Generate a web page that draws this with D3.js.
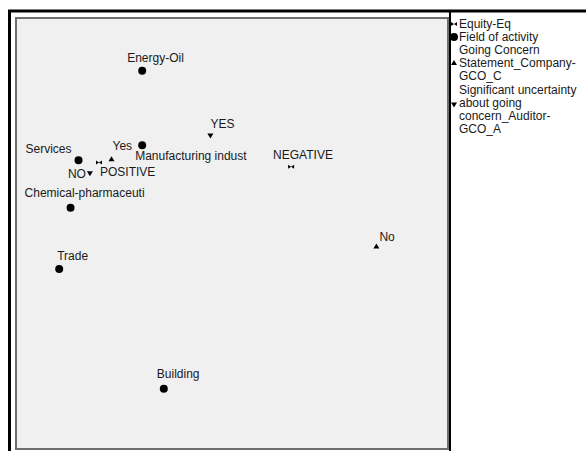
<!DOCTYPE html>
<html>
<head>
<meta charset="utf-8">
<script src="https://cdn.jsdelivr.net/npm/d3@7/dist/d3.min.js"></script>
<style>
  html, body { margin: 0; padding: 0; background: #ffffff; }
  svg { display: block; }
  text { font-family: "Liberation Sans", Arial, sans-serif; font-size: 12px; fill: #1a1a1a; }
</style>
</head>
<body>
<svg id="chart" width="586" height="451"></svg>
<script>
// ---- data ----
const groups = ["Equity-Eq", "Field of activity",
  "Going Concern Statement_Company-GCO_C",
  "Significant uncertainty about going concern_Auditor-GCO_A"];
const legendLines = [
  ["Equity-Eq"],
  ["Field of activity"],
  ["Going Concern", "Statement_Company-", "GCO_C"],
  ["Significant uncertainty", "about going", "concern_Auditor-", "GCO_A"]
];
const labels = ["POSITIVE", "NEGATIVE",
  "Energy-Oil", "Manufacturing indust", "Services", "Chemical-pharmaceuti", "Trade", "Building",
  "Yes", "No", "YES", "NO"];
const groupIndex = [0, 0, 1, 1, 1, 1, 1, 1, 2, 2, 3, 3];
const dim1 = [-0.47, 1.22, -0.09, -0.09, -0.65, -0.72, -0.82, 0.10, -0.36, 1.97, 0.51, -0.55];
const dim2 = [-0.14, -0.18, 0.71, 0.02, -0.12, -0.56, -1.13, -2.24, -0.11, -0.92, 0.11, -0.24];

// ---- layout (label placement relative to marker) ----
const labelOffset = [[1, 14], [-18, -8], [-15, -9], [-7, 15], [-53, -7], [-46, -11],
  [-2, -9], [-7, -11], [1, -9], [3, -5], [0, -7], [-22, 5]];

const svg = d3.select("#chart");
const plot = { x0: 16, x1: 448, y0: 18, y1: 449 };

const x = d3.scaleLinear().domain([-1.2, 2.6]).range([plot.x0, plot.x1]);
const y = d3.scaleLinear().domain([-2.8, 1.2]).range([plot.y1, plot.y0]);

// outer black frame
svg.append("line").attr("x1", 8).attr("x2", 586).attr("y1", 11).attr("y2", 11)
  .attr("stroke", "#000").attr("stroke-width", 3);
svg.append("line").attr("x1", 9.5).attr("x2", 9.5).attr("y1", 10).attr("y2", 451)
  .attr("stroke", "#000").attr("stroke-width", 3);
svg.append("line").attr("x1", 450).attr("x2", 450).attr("y1", 10).attr("y2", 451)
  .attr("stroke", "#000").attr("stroke-width", 2);

// plot box
svg.append("rect")
  .attr("x", plot.x0).attr("y", plot.y0)
  .attr("width", plot.x1 - plot.x0).attr("height", plot.y1 - plot.y0)
  .attr("fill", "#f0f0f0").attr("stroke", "#6e6e6e").attr("stroke-width", 2);

// marker shapes
function markerPath(g) {
  if (g === 0) return "M-3,-2L3,2L3,-2L-3,2Z";          // bow-tie
  if (g === 2) return "M0,-3L3,2L-3,2Z";               // triangle up
  if (g === 3) return "M0,3L3,-2L-3,-2Z";              // triangle down
  return null;
}
function drawMarker(sel, g) {
  if (g === 1) {
    sel.append("circle").attr("r", 4).attr("fill", "#000");
  } else {
    sel.append("path").attr("d", markerPath(g)).attr("fill", "#000")
      .attr("fill-rule", "evenodd");
  }
}

const pts = labels.map((l, i) => ({ label: l, g: groupIndex[i], x: dim1[i], y: dim2[i], off: labelOffset[i] }));

const pg = svg.append("g");
pts.forEach(p => {
  const gg = pg.append("g").attr("transform", `translate(${x(p.x)},${y(p.y)})`);
  drawMarker(gg, p.g);
  gg.append("text").attr("x", p.off[0]).attr("y", p.off[1]).text(p.label);
});

// legend
const legend = svg.append("g");
const lineH = 13, itemGap = 14;
let cy = 24;
legendLines.forEach((lines, gi) => {
  const n = lines.length;
  const firstCenter = cy;
  lines.forEach((t, li) => {
    legend.append("text").attr("x", 459).attr("y", firstCenter + li * lineH + 4).text(t);
  });
  let mc = firstCenter + (n - 1) * lineH / 2;
  if (n === 4) mc -= 5;
  const mg = legend.append("g").attr("transform", `translate(454,${mc})`);
  drawMarker(mg, gi);
  cy = firstCenter + (n - 1) * lineH + (gi < 2 ? lineH : itemGap);
});
</script>
</body>
</html>
